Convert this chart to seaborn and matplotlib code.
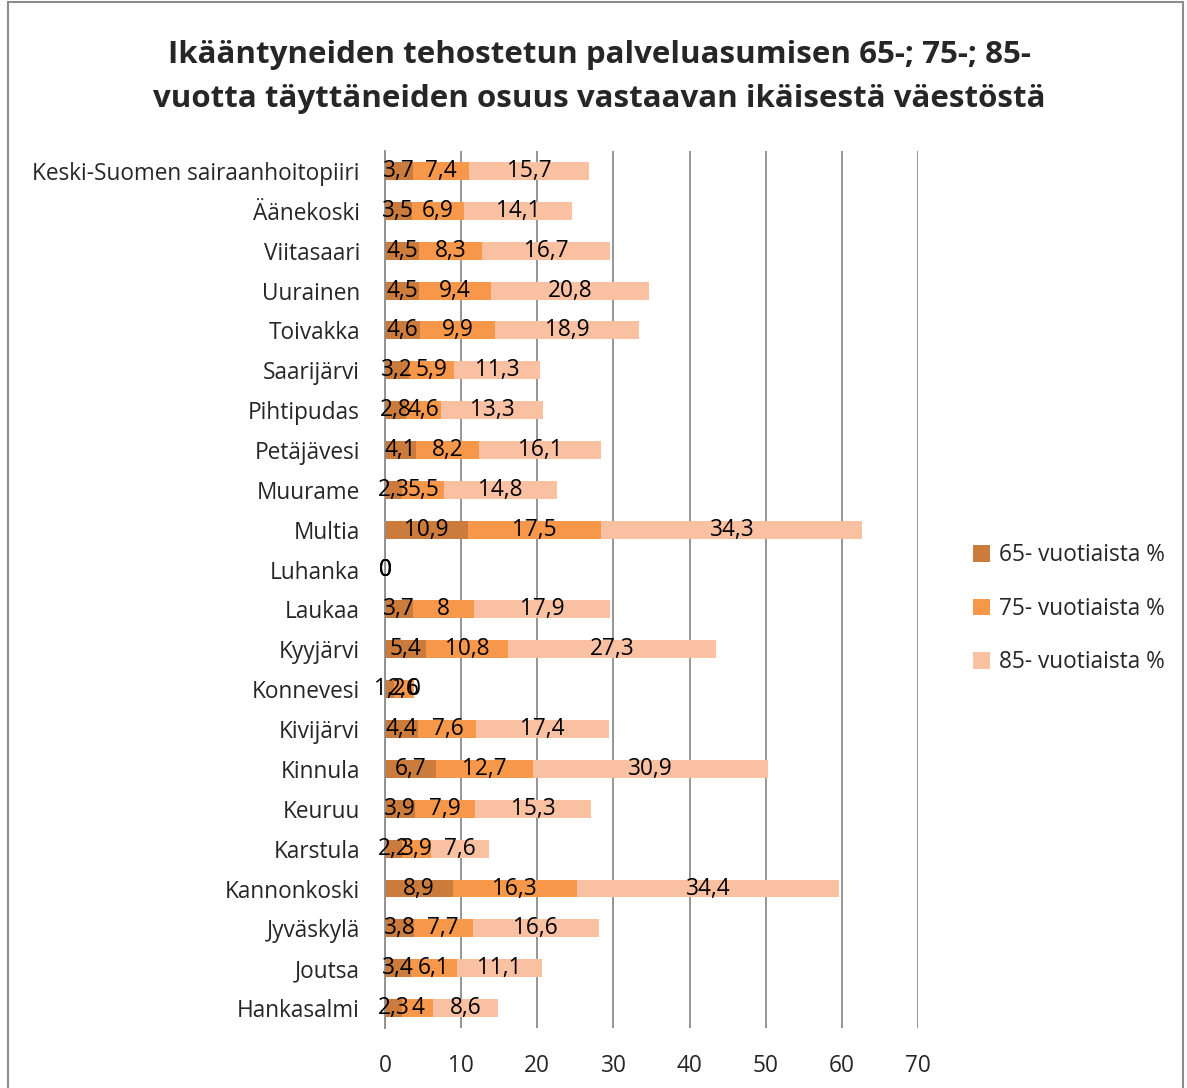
import numpy as np
import pandas as pd
import matplotlib
matplotlib.use("Agg")
import matplotlib.pyplot as plt
import seaborn as sns
from matplotlib.patches import Patch, Rectangle

sns.set_style("white")
plt.rcParams["font.family"] = ["Open Sans", "DejaVu Sans"]

# Data (top to bottom as shown in the chart)
kunnat = ["Keski-Suomen sairaanhoitopiiri", "Äänekoski", "Viitasaari", "Uurainen",
          "Toivakka", "Saarijärvi", "Pihtipudas", "Petäjävesi", "Muurame", "Multia",
          "Luhanka", "Laukaa", "Kyyjärvi", "Konnevesi", "Kivijärvi", "Kinnula",
          "Keuruu", "Karstula", "Kannonkoski", "Jyväskylä", "Joutsa", "Hankasalmi"]
v65 = [3.7, 3.5, 4.5, 4.5, 4.6, 3.2, 2.8, 4.1, 2.3, 10.9, 0, 3.7, 5.4, 1.2, 4.4, 6.7,
       3.9, 2.2, 8.9, 3.8, 3.4, 2.3]
v75 = [7.4, 6.9, 8.3, 9.4, 9.9, 5.9, 4.6, 8.2, 5.5, 17.5, 0, 8.0, 10.8, 2.6, 7.6, 12.7,
       7.9, 3.9, 16.3, 7.7, 6.1, 4.0]
v85 = [15.7, 14.1, 16.7, 20.8, 18.9, 11.3, 13.3, 16.1, 14.8, 34.3, 0, 17.9, 27.3, 0, 17.4,
       30.9, 15.3, 7.6, 34.4, 16.6, 11.1, 8.6]
sarjat = ["65- vuotiaista %", "75- vuotiaista %", "85- vuotiaista %"]
varit = ["#CB7B3B", "#F7974A", "#FAC0A2"]

df = pd.DataFrame({"kunta": kunnat, "v65": v65, "v75": v75, "v85": v85})
df["c65"] = df["v65"]
df["c75"] = df["v65"] + df["v75"]
df["c85"] = df["c75"] + df["v85"]

fig = plt.figure(figsize=(11.87, 10.88), dpi=100)
ax = fig.add_axes([0.3243, 0.0551, 0.4491, 0.8061])

# stacked bars: draw cumulative totals, largest first
for col, color in zip(["c85", "c75", "c65"], varit[::-1]):
    sns.barplot(data=df, x=col, y="kunta", orient="h", color=color, width=0.45,
                saturation=1, linewidth=0, ax=ax, zorder=3)


def fmt(v):
    if float(v).is_integer():
        return str(int(v))
    return f"{v:.1f}".replace(".", ",")


fs = 16.3
for i, row in df.iterrows():
    start = 0
    for col in ["v65", "v75", "v85"]:
        val = row[col]
        ax.text(start + val / 2, i, fmt(val), ha="center", va="center",
                fontsize=fs, color="black", zorder=5)
        start += val

ax.set_xlim(0, 70)
ax.set_ylim(len(kunnat) - 0.5, -0.5)
ax.set_xticks(np.arange(0, 71, 10))
ax.set_xlabel("")
ax.set_ylabel("")
ax.xaxis.grid(True, color="#8c8c8c", linewidth=1.3, zorder=0)
ax.yaxis.grid(False)
for s in ["top", "right", "bottom"]:
    ax.spines[s].set_visible(False)
ax.spines["left"].set_color("#8c8c8c")
ax.spines["left"].set_linewidth(1.3)
ax.spines["left"].set_zorder(4)

ax.tick_params(axis="x", length=0, labelsize=fs, pad=19)
ax.tick_params(axis="y", which="major", length=0, labelsize=fs, pad=18)
ax.set_yticks(np.arange(-0.5, len(kunnat), 1), minor=True)
ax.tick_params(axis="y", which="minor", length=6, width=1.3, color="#8c8c8c",
               direction="out")

handles = [Patch(facecolor=c, edgecolor="none") for c in varit]
ax.legend(handles, sarjat, loc="center left", bbox_to_anchor=(1.065, 0.478),
          frameon=False, fontsize=fs, handlelength=0.75, handleheight=0.75,
          handletextpad=0.4, labelspacing=1.3)

fig.suptitle("Ikääntyneiden tehostetun palveluasumisen 65-; 75-; 85-\n"
             "vuotta täyttäneiden osuus vastaavan ikäisestä väestöstä",
             fontsize=22.5, fontweight="bold", y=0.963, x=0.505, linespacing=1.6)

fig.patches.append(Rectangle((0.007, -0.01), 0.99, 1.008, transform=fig.transFigure,
                             fill=False, edgecolor="#8c8c8c", linewidth=1.5))

fig.savefig("out.png", dpi=100)
